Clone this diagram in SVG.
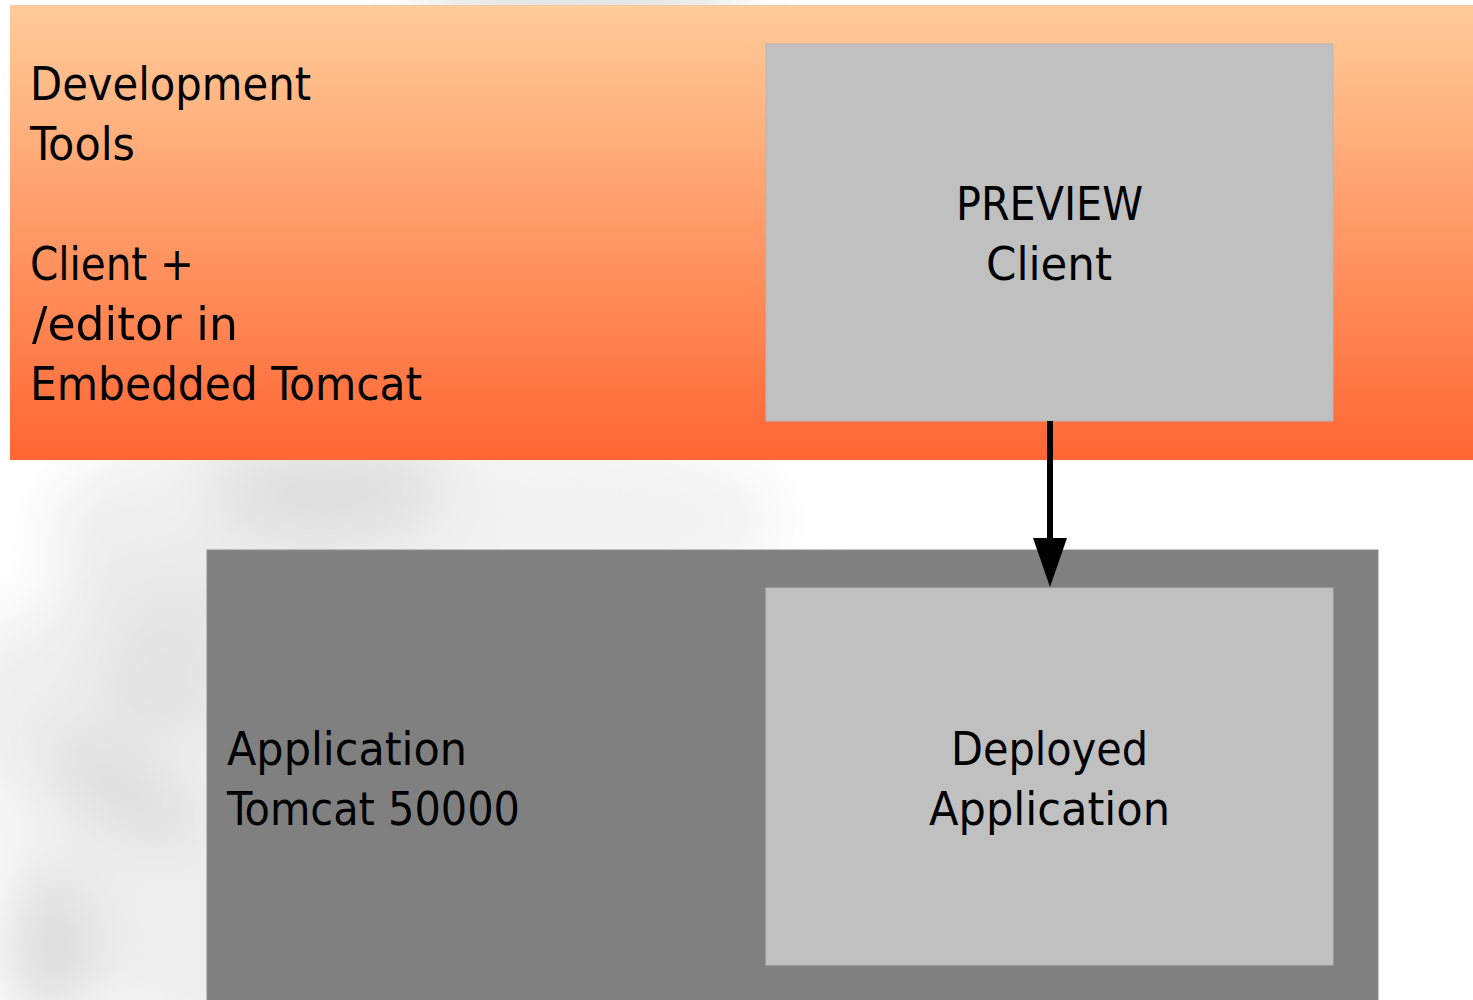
<svg xmlns="http://www.w3.org/2000/svg" width="1473" height="1000" viewBox="0 0 1473 1000">
<style>
.lbl{font-family:"DejaVu Sans Condensed","DejaVu Sans",sans-serif;font-stretch:condensed;font-size:46px;fill:#000}
.mid{text-anchor:middle}
.box{fill:#c0c0c0;stroke:#b8b8b8;stroke-width:1}
</style>
<defs>
<linearGradient id="orange" x1="0" y1="0" x2="0" y2="1">
<stop offset="0" stop-color="#ffcc99"/>
<stop offset="1" stop-color="#ff6633"/>
</linearGradient>
<filter id="blur" filterUnits="userSpaceOnUse" x="-200" y="-200" width="1400" height="1400"><feGaussianBlur stdDeviation="30"/></filter>
<marker id="arrow" markerWidth="50" markerHeight="34" refX="0" refY="17" orient="auto" markerUnits="userSpaceOnUse" viewBox="0 0 50 34">
<path d="M0,0 L49,17 L0,34 Z" fill="#000"/>
</marker>
</defs>
<rect width="1473" height="1000" fill="#ffffff"/>
<g id="background-photo" filter="url(#blur)">
<ellipse cx="320" cy="730" rx="360" ry="330" fill="#eeeeee"/>
<ellipse cx="560" cy="520" rx="220" ry="80" fill="#f2f2f2"/>
<ellipse cx="330" cy="495" rx="120" ry="45" fill="#dedede"/>
<ellipse cx="180" cy="610" rx="90" ry="45" fill="#e6e6e6"/>
<ellipse cx="120" cy="790" rx="90" ry="30" fill="#dadada" transform="rotate(30 120 790)"/>
<ellipse cx="160" cy="690" rx="70" ry="45" fill="#e2e2e2"/>
<ellipse cx="50" cy="950" rx="45" ry="75" fill="#dcdcdc"/>
<ellipse cx="10" cy="570" rx="50" ry="55" fill="#ffffff"/>
<ellipse cx="15" cy="820" rx="25" ry="60" fill="#f6f6f6"/>
<ellipse cx="580" cy="0" rx="170" ry="25" fill="#d4d4d4"/>
<ellipse cx="165" cy="480" rx="30" ry="14" fill="#fafafa"/>
</g>
<g id="dev-tools">
<rect x="10" y="5" width="1463" height="455" fill="url(#orange)"/>
<text class="lbl" x="30" y="100" textLength="281" lengthAdjust="spacingAndGlyphs">Development</text>
<text class="lbl" x="30" y="160" textLength="105" lengthAdjust="spacingAndGlyphs">Tools</text>
<text class="lbl" x="30" y="280" textLength="164" lengthAdjust="spacingAndGlyphs">Client +</text>
<text class="lbl" x="32" y="340" textLength="206" lengthAdjust="spacingAndGlyphs">/editor in</text>
<text class="lbl" x="30" y="400" textLength="392" lengthAdjust="spacingAndGlyphs">Embedded Tomcat</text>
</g>
<g id="preview-client">
<rect class="box" x="766" y="44" width="567" height="377"/>
<text class="lbl mid" x="1049.5" y="220" textLength="187" lengthAdjust="spacingAndGlyphs">PREVIEW</text>
<text class="lbl mid" x="1049" y="280" textLength="126" lengthAdjust="spacingAndGlyphs">Client</text>
</g>
<g id="app-tomcat">
<rect x="207" y="550" width="1171" height="460" fill="#808080" stroke="#8e8e8e" stroke-width="1"/>
<text class="lbl" x="227" y="765" textLength="240" lengthAdjust="spacingAndGlyphs">Application</text>
<text class="lbl" x="227" y="825" textLength="293" lengthAdjust="spacingAndGlyphs">Tomcat 50000</text>
</g>
<g id="deployed-app">
<rect class="box" x="766" y="588" width="567" height="377"/>
<text class="lbl mid" x="1049.5" y="765" textLength="197" lengthAdjust="spacingAndGlyphs">Deployed</text>
<text class="lbl mid" x="1049.5" y="825" textLength="241" lengthAdjust="spacingAndGlyphs">Application</text>
</g>
<g id="connectors">
<line x1="1050" y1="421" x2="1050" y2="538" stroke="#000" stroke-width="6" marker-end="url(#arrow)"/>
</g>
</svg>
